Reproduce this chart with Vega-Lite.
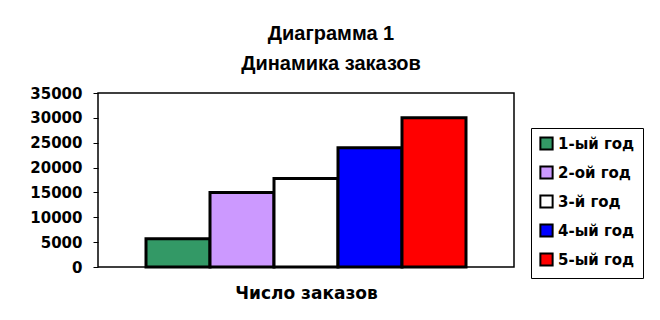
{
  "$schema": "https://vega.github.io/schema/vega-lite/v6.json",
  "width": 416,
  "height": 174,
  "autosize": {"type": "none"},
  "padding": {"left": 98, "top": 93, "right": 146, "bottom": 53},
  "background": "white",
  "title": {
    "text": ["Диаграмма 1", "Динамика заказов"],
    "font": "Liberation Sans",
    "fontSize": 20,
    "fontWeight": "bold",
    "lineHeight": 30,
    "anchor": "middle",
    "dx": 25,
    "offset": 12,
    "color": "black"
  },
  "data": {
    "values": [
      {"series": "1-ый год", "value": 5700},
      {"series": "2-ой год", "value": 15000},
      {"series": "3-й год", "value": 17800},
      {"series": "4-ый год", "value": 24000},
      {"series": "5-ый год", "value": 30000}
    ]
  },
  "mark": {"type": "bar", "stroke": "black", "strokeWidth": 3},
  "encoding": {
    "x": {
      "field": "series",
      "type": "nominal",
      "sort": null,
      "scale": {"paddingInner": 0, "paddingOuter": 0.75},
      "axis": {
        "labels": false,
        "ticks": false,
        "domain": false,
        "title": "Число заказов",
        "titleFont": "DejaVu Sans",
        "titleFontSize": 17,
        "titleFontWeight": "bold",
        "titleColor": "black",
        "titlePadding": 18
      }
    },
    "y": {
      "field": "value",
      "type": "quantitative",
      "scale": {"domain": [0, 35000], "nice": false},
      "axis": {
        "values": [0, 5000, 10000, 15000, 20000, 25000, 30000, 35000],
        "format": "d",
        "grid": false,
        "domain": false,
        "tickColor": "black",
        "tickSize": 5,
        "labelFont": "DejaVu Sans",
        "labelFontSize": 15,
        "labelFontWeight": "bold",
        "labelColor": "black",
        "labelPadding": 11,
        "title": null
      }
    },
    "color": {
      "field": "series",
      "type": "nominal",
      "sort": null,
      "scale": {
        "domain": ["1-ый год", "2-ой год", "3-й год", "4-ый год", "5-ый год"],
        "range": ["#339966", "#CC99FF", "#FFFFFF", "#0000FF", "#FF0000"]
      },
      "legend": {
        "title": null,
        "orient": "none",
        "legendX": 433,
        "legendY": 35,
        "symbolType": "square",
        "symbolSize": 150,
        "symbolStrokeColor": "black",
        "symbolStrokeWidth": 2,
        "symbolOpacity": 1,
        "labelFont": "DejaVu Sans",
        "labelFontSize": 15,
        "labelFontWeight": "bold",
        "labelColor": "black",
        "labelOffset": 4,
        "rowPadding": 8,
        "padding": 8,
        "strokeColor": "black",
        "fillColor": "white"
      }
    }
  },
  "config": {"view": {"stroke": "black", "strokeWidth": 1.5}}
}
